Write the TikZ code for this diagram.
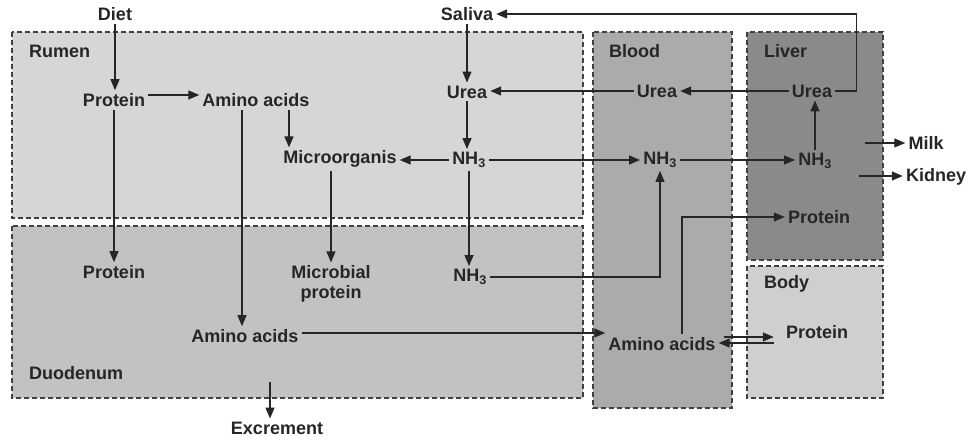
\documentclass[tikz,border=0pt]{standalone}
\usepackage{fontspec}
\setmainfont{Liberation Sans}
\usepackage{xcolor}
\usepackage{tikz}
\usetikzlibrary{arrows.meta, positioning}

\definecolor{rumenfill}{gray}{0.84}
\definecolor{duofill}{gray}{0.76}
\definecolor{bloodfill}{gray}{0.67}
\definecolor{liverfill}{gray}{0.54}
\definecolor{bodyfill}{gray}{0.81}

\begin{document}
\begin{tikzpicture}[
  x=1pt, y=-1pt,
  every node/.style={font=\bfseries\fontsize{18}{20}\selectfont, text=black!85, inner sep=3pt},
  zone/.style={draw=black!75, line width=1.1pt, dash pattern=on 5pt off 3pt},
  flow/.style={-{Triangle[length=11pt, width=9pt]}, draw=black!85, line width=1.2pt}
]
\useasboundingbox (0,0) rectangle (971,444);

% compartments
\draw[zone, fill=rumenfill] (12,32) rectangle (583,218);
\draw[zone, fill=duofill] (12,226) rectangle (583,398);
\draw[zone, fill=bloodfill] (593,32) rectangle (732,408);
\draw[zone, fill=liverfill] (747,32) rectangle (883,260);
\draw[zone, fill=bodyfill] (747,266) rectangle (883,398);

\node[anchor=west] (rumen) at (26,51) {Rumen};
\node[anchor=west] (duo) at (26,373) {Duodenum};
\node[anchor=west] (blood) at (606,51) {Blood};
\node[anchor=west] (liver) at (761,51) {Liver};
\node[anchor=west] (body) at (761,284) {Body};

% rumen and duodenum
\node (diet) at (115,14) {Diet};
\node (prot1) at (114,100) {Protein};
\node (amino1) at (256,100) {Amino acids};
\node (micro) at (340,159) {Microorganis};
\node (saliva) at (467,14) {Saliva};
\node (urea1) at (467,92) {Urea};
\node (nh1) at (469,160) {NH\textsubscript{3}};
\node (prot2) at (114,272) {Protein};
\node (mprot) at (331,284) [align=center] {Microbial\\protein};
\node (nh2) at (470,277) {NH\textsubscript{3}};
\node (amino2) at (245,336) {Amino acids};
\node (excr) at (277,428) {Excrement};

% blood, liver and body
\node (urea2) at (657,91) {Urea};
\node (nh3) at (660,160) {NH\textsubscript{3}};
\node (amino3) at (662,344) {Amino acids};
\node (urea3) at (812,91) {Urea};
\node (nh4) at (815,161) {NH\textsubscript{3}};
\node (prot3) at (819,217) {Protein};
\node (milk) at (926,143) {Milk};
\node (kidney) at (936,177) {Kidney};
\node (prot4) at (817,332) [inner xsep=12pt] {Protein};

\coordinate (milkout) at (865,143);
\coordinate (kidout) at (859,176);
\coordinate (duoout) at (270,382);

\draw[flow] (diet.south) -- (diet.south |- prot1.north);
\draw[flow] ([yshift=5pt]prot1.east) -- ([yshift=5pt]amino1.west);
\draw[flow] (prot1) -- (prot2);
\draw[flow] ([xshift=-14pt]amino1.south) -- ([xshift=-14pt]amino1.south |- amino2.north);
\draw[flow] ([xshift=33pt]amino1.south) -- ([xshift=33pt]amino1.south |- micro.north);
\draw[flow] (micro.south -| mprot.north) -- (mprot.north);
\draw[flow] (saliva) -- (urea1);
\draw[flow] (urea1) -- (urea1 |- nh1.north);
\draw[flow] (nh1.west) -- (micro.east |- nh1.west);
\draw[flow] (nh1.east) -- (nh3.west |- nh1.east);
\draw[flow] (nh1) -- (nh1 |- nh2.north);
\draw[flow] (nh2.east) -| (nh3.south);
\draw[flow] ([yshift=3pt]amino2.east) -- ([yshift=3pt]amino2.east -| amino3.west);
\draw[flow] ([xshift=20pt]amino3.north) |- (prot3.west);
\draw[flow] ([xshift=5pt, yshift=7pt]amino3.east) -- ([yshift=7pt]amino3.east -| prot4.west);
\draw[flow] ([yshift=-11pt]prot4.west) -- ([yshift=-11pt]prot4.west -| amino3.east);
\draw[flow] (nh3.east) -- (nh4.west |- nh3.east);
\draw[flow] (nh4) -- (nh4 |- urea3.south);
\draw[flow] (urea3.west) -- (urea2.east |- urea3.west);
\draw[flow] (urea2.west) -- (urea1.east |- urea2.west);
\draw[flow] (urea3.east) -- ++(21,0) |- (saliva.east);
\draw[flow] (milkout) -- (milk.west);
\draw[flow] (kidout) -- (kidney.west |- kidout);
\draw[flow] (duoout) -- (duoout |- excr.north);

\end{tikzpicture}
\end{document}
